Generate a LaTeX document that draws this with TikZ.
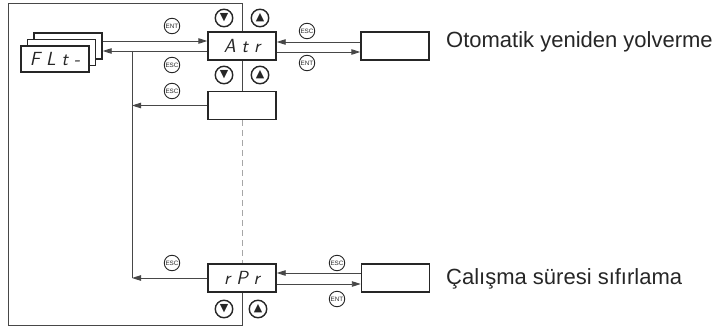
\documentclass[tikz,border=0pt]{standalone}
\usepackage{fontspec}
\setmainfont{Liberation Sans}
\newfontfamily\dejavu{DejaVu Sans}
\usetikzlibrary{arrows.meta,calc}
\definecolor{ink}{gray}{0.15}
\definecolor{linec}{gray}{0.28}
\tikzset{
  dispbox/.style={draw=ink, line width=1.4pt, minimum width=68pt, minimum height=28pt, inner sep=0pt, fill=white},
  segtxt/.style={font=\fontsize{19}{19}\selectfont\sffamily\slshape, text=ink},
  conn/.style={draw=linec, line width=0.9pt},
  arr/.style={conn, -{Triangle[length=9pt,width=5.5pt]}},
  frameline/.style={draw=linec, line width=0.9pt},
  dashline/.style={draw=gray!70, line width=0.9pt, dash pattern=on 6pt off 4pt},
  btn/.style={circle, draw=ink, line width=1.4pt, minimum size=17.5pt, inner sep=0pt, font=\dejavu\fontsize{11}{11}\selectfont, text=ink},
  keyc/.style={circle, draw=ink, line width=0.9pt, minimum size=15.5pt, inner sep=0pt, font=\fontsize{6.3}{6.3}\selectfont, text=ink},
  label/.style={anchor=base west, font=\fontsize{22}{26}\selectfont, text=ink, inner sep=0pt}
}
\begin{document}
\begin{tikzpicture}[x=1pt,y=-1pt]
\useasboundingbox (0,0) rectangle (719,329);
% stacked FLt boxes
\node[dispbox, minimum width=68pt, minimum height=26pt] (fltb) at (68,46) {};
\node[dispbox, minimum width=68pt, minimum height=26pt] (fltm) at (61.5,52.5) {};
\node[dispbox, minimum width=68pt, minimum height=26pt, segtxt] (flt) at (55,59) {F\hspace{6pt}L\hspace{6pt}t\hspace{6pt}-};
% main boxes
\node[dispbox, segtxt] (atr) at (242,46) {A\hspace{6pt}t\hspace{6pt}r};
\node[dispbox] (box2) at (242,105.5) {};
\node[dispbox, segtxt] (rpr) at (242,278) {r\hspace{6pt}P\hspace{6pt}r};
\node[dispbox] (rbox1) at (395,46) {};
\node[dispbox] (rbox2) at (395.5,278) {};
% labels
\node[label] (lab1) at (446,48) {Otomatik yeniden yolverme};
\node[label] (lab2) at (446,284) {Çalışma süresi sıfırlama};
% frame
\draw[frameline] (atr.north) -- (atr.north |- 0,3) -- (8,3) -- (8,325) -- (rpr.south |- 0,325) -- (rpr.south);
\draw[conn] (atr.south) -- (box2.north);
\draw[dashline] (box2.south) -- (rpr.north);
% left connectors
\coordinate (vtop) at (132,51);
\coordinate (vbot) at (132,278);
\draw[arr] (fltb.east |- 0,41) -- (atr.west |- 0,41);
\draw[arr] (atr.west |- 0,51) -- (fltb.east |- 0,51);
\draw[conn] (vtop) -- (vbot);
\draw[arr] (box2.west) -- (vtop |- box2.west);
\draw[arr] (rpr.west) -- (vbot);
% right connectors
\draw[arr] (rbox1.west |- 0,42) -- (atr.east |- 0,42);
\draw[arr] (atr.east |- 0,52) -- (rbox1.west |- 0,52);
\draw[arr] (rbox2.west |- 0,273) -- (rpr.east |- 0,273);
\draw[arr] (rpr.east |- 0,284) -- (rbox2.west |- 0,284);
% keys
\node[keyc] (k1) at (172,26) {ENT};
\node[keyc] (k2) at (172,65) {ESC};
\node[keyc] (k3) at (172,91) {ESC};
\node[keyc] (k4) at (307,31) {ESC};
\node[keyc] (k5) at (307,63) {ENT};
\node[keyc] (k6) at (172,263) {ESC};
\node[keyc] (k7) at (337,263) {ESC};
\node[keyc] (k8) at (337,299) {ENT};
% buttons
\node[btn] (d1) at (224,18) {▼};
\node[btn] (u1) at (260,18) {▲};
\node[btn] (d2) at (224,75) {▼};
\node[btn] (u2) at (260,75) {▲};
\node[btn] (d3) at (224,309) {▼};
\node[btn] (u3) at (258,309) {▲};
\end{tikzpicture}
\end{document}
